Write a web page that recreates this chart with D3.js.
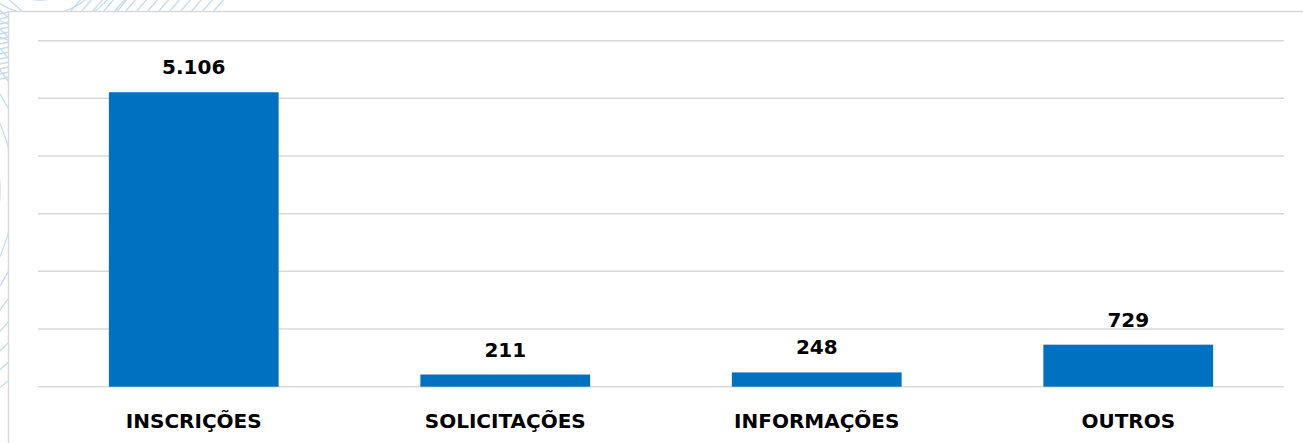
<!DOCTYPE html>
<html><head><meta charset="utf-8">
<script src="https://cdn.jsdelivr.net/npm/d3@7"></script>
<style>html,body{margin:0;padding:0;background:#fff;overflow:hidden}</style>
</head><body>
<svg id="c" width="1303" height="443"></svg>
<script>
const categories = ["INSCRIÇÕES", "SOLICITAÇÕES", "INFORMAÇÕES", "OUTROS"];
const values = [5106, 211, 248, 729];
const valueLabels = ["5.106", "211", "248", "729"];
const gridTicks = [0, 1000, 2000, 3000, 4000, 5000, 6000];

const svg = d3.select("#c");
const W = 1303, H = 443;
const font = "'DejaVu Sans', sans-serif";

// decorative background lines (outside the chart box)
const deco = svg.append("g").attr("stroke", "#c4dbef").attr("fill", "none").attr("stroke-width", 1.3);
[0, 14, 28, 42, 56, 70, 84, 98].forEach(r => {
  deco.append("circle").attr("cx", -150).attr("cy", 190).attr("r", r + 150);
});
[30, 45, 60, 75, 90, 105].forEach(r => {
  deco.append("circle").attr("cx", 40).attr("cy", -60).attr("r", r);
});
d3.range(0, 14).forEach(i => {
  const x = 70 + i * 11;
  deco.append("line").attr("x1", x).attr("y1", 12).attr("x2", x + 12).attr("y2", -2);
});
d3.range(0, 14).forEach(i => {
  const y = 14 + i * 5;
  deco.append("line").attr("x1", 0).attr("y1", y).attr("x2", 9).attr("y2", y - 2);
});

// chart box
svg.append("rect").attr("x", 8.5).attr("y", 11.5).attr("width", W).attr("height", H)
  .attr("fill", "#fff").attr("stroke", "#d9d9d9").attr("stroke-width", 1.5);

const x = d3.scaleBand().domain(categories).range([38, 1284]).paddingInner(0.455).paddingOuter(0.2275);
const y = d3.scaleLinear().domain([0, 6000]).range([386.7, 40.7]);

// gridlines
svg.append("g").selectAll("line").data(gridTicks).join("line")
  .attr("x1", 38).attr("x2", 1284)
  .attr("y1", d => y(d)).attr("y2", d => y(d))
  .attr("stroke", "#d9d9d9").attr("stroke-width", 1.5);

// bars
svg.append("g").selectAll("rect").data(values).join("rect")
  .attr("x", (d, i) => x(categories[i]))
  .attr("width", x.bandwidth())
  .attr("y", d => y(d))
  .attr("height", d => y(0) - y(d))
  .attr("fill", "#0070c0");

// value labels
svg.append("g").selectAll("text").data(values).join("text")
  .attr("x", (d, i) => x(categories[i]) + x.bandwidth() / 2)
  .attr("y", d => y(d) - 18)
  .attr("text-anchor", "middle")
  .attr("font-family", font).attr("font-weight", 700).attr("font-size", 20)
  .attr("fill", "#000")
  .text((d, i) => valueLabels[i]);

// category labels
const xAxis = d3.axisBottom(x).tickSize(0).tickPadding(0);
const ax = svg.append("g").attr("transform", `translate(0,${y(0)})`).call(xAxis);
ax.select(".domain").remove();
ax.selectAll("text")
  .attr("dy", null).attr("y", 41.5)
  .attr("font-family", font).attr("font-weight", 700).attr("font-size", 20)
  .attr("fill", "#000");
</script>
</body></html>
